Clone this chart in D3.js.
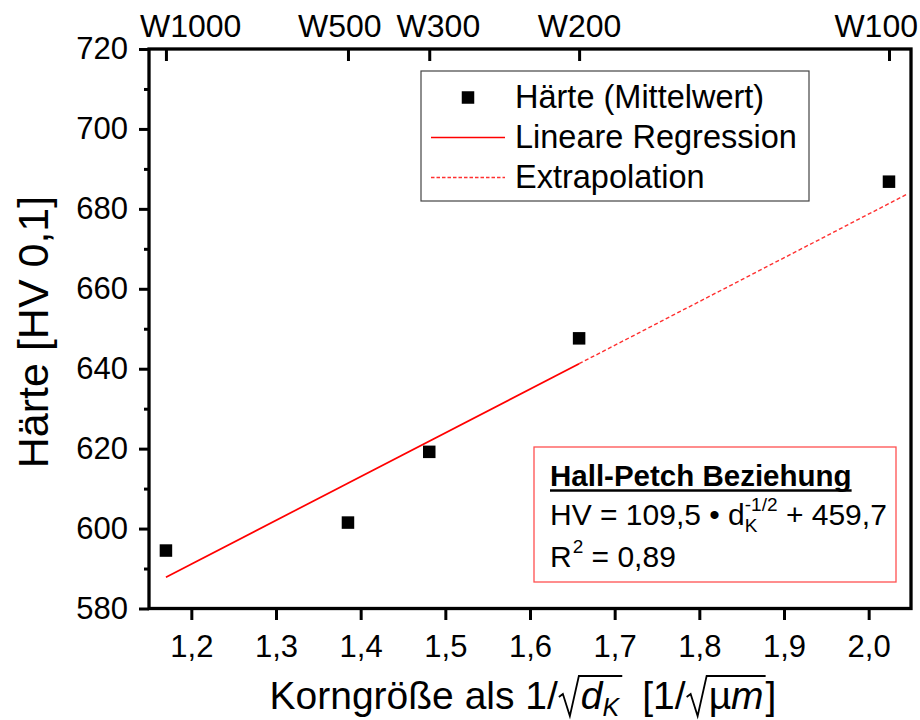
<!DOCTYPE html>
<html>
<head>
<meta charset="utf-8">
<script src="https://cdn.jsdelivr.net/npm/d3@7"></script>
<style>
  html, body { margin: 0; padding: 0; background: #fff; }
  svg { display: block; }
  text { font-family: "Liberation Sans", Arial, sans-serif; fill: #000; white-space: pre; }
</style>
</head>
<body>
<svg id="chart" width="920" height="720"></svg>
<script>
// Grain size 1/sqrt(d_K) [1/sqrt(µm)] per polishing stage, and mean hardness HV 0,1
const grainSize = [1.17, 1.385, 1.481, 1.658, 2.024];
const hardness = [594.5, 601.5, 619.2, 647.6, 686.8];
const sampleLabels = ["W1000", "W500", "W300", "W200", "W100"];

// Axis ticks
const xTicks = [1.2, 1.3, 1.4, 1.5, 1.6, 1.7, 1.8, 1.9, 2.0];
const yTicks = [580, 600, 620, 640, 660, 680, 700, 720];
const yMinorTicks = [590, 610, 630, 650, 670, 690, 710];

// Hall-Petch fit: HV = slope * d^-1/2 + intercept
const fitSlope = 109.5;
const fitIntercept = 459.7;
const rSquared = 0.89;
const fitRange = [1.17, 1.658];
const extrapolationRange = [1.658, 2.045];

const legendLabels = ["Härte (Mittelwert)", "Lineare Regression", "Extrapolation"];
const boxTitle = "Hall-Petch Beziehung";

const svg = d3.select("#chart").attr("xml:space", "preserve");
const deComma = v => String(v).replace(".", ",");

const x = d3.scaleLinear().domain([1.15, 2.05]).range([149, 911]);
const y = d3.scaleLinear().domain([580, 720]).range([608.5, 49]);

const RED = "#ff0000";
const AXIS_W = 3.3;
const FONT = '"Liberation Sans", Arial, sans-serif';

// ---- axes ----
function styleAxis(g, size) {
  g.attr("font-family", FONT).attr("font-size", size);
  g.select(".domain").remove();
  g.selectAll(".tick line").attr("stroke", "#000").attr("stroke-width", 3);
  g.selectAll(".tick text").attr("fill", "#000");
}

svg.append("g")
  .attr("transform", `translate(${x.range()[0]},0)`)
  .call(d3.axisLeft(y).tickValues(yMinorTicks).tickSize(5).tickFormat(""))
  .call(g => styleAxis(g, 30));

svg.append("g")
  .attr("transform", `translate(${x.range()[0]},0)`)
  .call(d3.axisLeft(y).tickValues(yTicks).tickSize(10).tickPadding(11).tickFormat(d3.format("d")))
  .call(g => styleAxis(g, 31));

svg.append("g")
  .attr("transform", `translate(0,${y.range()[0]})`)
  .call(d3.axisBottom(x).tickValues(xTicks).tickSize(11.5).tickPadding(15)
    .tickFormat(d => d3.format(".1f")(d).replace(".", ",")))
  .call(g => styleAxis(g, 31));

const topAxis = svg.append("g")
  .attr("transform", `translate(0,${y.range()[1]})`)
  .call(d3.axisTop(x).tickValues(grainSize).tickSize(-12).tickPadding(12)
    .tickFormat((d, i) => sampleLabels[i]))
  .call(g => styleAxis(g, 32));

// keep the sample labels inside the figure and apart from each other
(function spreadTopLabels() {
  const GAP = 15, MIN_LEFT = 140, MAX_RIGHT = 918;
  const items = topAxis.selectAll(".tick text").nodes().map(n => {
    const bb = n.getBBox();
    const tx = n.parentNode.transform.baseVal.consolidate().matrix.e;
    return { n, left: tx + bb.x, width: bb.width, shift: 0 };
  });
  items.forEach(it => {
    if (it.left < MIN_LEFT) it.shift = MIN_LEFT - it.left;
    if (it.left + it.width > MAX_RIGHT) it.shift = MAX_RIGHT - it.left - it.width;
  });
  for (let i = 0; i < items.length - 1; i++) {
    const a = items[i], b = items[i + 1];
    const over = (a.left + a.shift + a.width + GAP) - (b.left + b.shift);
    if (over > 0) { a.shift -= over / 2; b.shift += over / 2; }
  }
  items.forEach(it => d3.select(it.n).attr("dx", it.shift));
})();

// frame
svg.append("rect")
  .attr("x", x.range()[0]).attr("y", y.range()[1])
  .attr("width", x.range()[1] - x.range()[0])
  .attr("height", y.range()[0] - y.range()[1])
  .attr("fill", "none").attr("stroke", "#000").attr("stroke-width", AXIS_W);

// ---- regression and extrapolation ----
const fit = v => fitSlope * v + fitIntercept;
const line = d3.line().x(d => x(d)).y(d => y(fit(d)));

svg.append("path").datum(fitRange)
  .attr("d", line).attr("fill", "none")
  .attr("stroke", RED).attr("stroke-width", 1.7);

svg.append("path").datum(extrapolationRange)
  .attr("d", line).attr("fill", "none")
  .attr("stroke", "#ff3030").attr("stroke-width", 1.4)
  .attr("stroke-dasharray", "4,2.5");

// ---- data points ----
const MS = 12.5;
svg.append("g").selectAll("rect")
  .data(grainSize.map((g, i) => [g, hardness[i]]))
  .join("rect")
  .attr("x", d => x(d[0]) - MS / 2)
  .attr("y", d => y(d[1]) - MS / 2)
  .attr("width", MS).attr("height", MS)
  .attr("fill", "#000");

// ---- legend ----
const lg = svg.append("g");
lg.append("rect").attr("x", 421).attr("y", 71).attr("width", 388).attr("height", 130)
  .attr("fill", "#fff").attr("stroke", "#444").attr("stroke-width", 1.2);
const rowY = [108, 148, 188];
lg.append("rect").attr("x", 468 - MS / 2).attr("y", rowY[0] - 10.5 - MS / 2)
  .attr("width", MS).attr("height", MS).attr("fill", "#000");
lg.append("line").attr("x1", 431).attr("x2", 505).attr("y1", rowY[1] - 10.5).attr("y2", rowY[1] - 10.5)
  .attr("stroke", RED).attr("stroke-width", 1.7);
lg.append("line").attr("x1", 431).attr("x2", 505).attr("y1", rowY[2] - 10.5).attr("y2", rowY[2] - 10.5)
  .attr("stroke", "#ff3030").attr("stroke-width", 1.4).attr("stroke-dasharray", "3.5,2");
legendLabels.forEach((s, i) => {
  lg.append("text").attr("x", 515).attr("y", rowY[i]).attr("font-size", 32.5).text(s);
});

// ---- Hall-Petch box ----
const hb = svg.append("g");
hb.append("rect").attr("x", 534).attr("y", 447).attr("width", 362).attr("height", 135)
  .attr("fill", "#fff").attr("stroke", "#ff5050").attr("stroke-width", 1.3);

const tTitle = hb.append("text").attr("x", 550).attr("y", 486)
  .attr("font-size", 29.5).attr("font-weight", "bold").text(boxTitle);
const wTitle = tTitle.node().getComputedTextLength();
hb.append("line").attr("x1", 550).attr("x2", 550 + wTitle).attr("y1", 490.5).attr("y2", 490.5)
  .attr("stroke", "#000").attr("stroke-width", 2.4);

const EQ = 30, SUBS = 19;
const eqA = hb.append("text").attr("x", 550).attr("y", 525).attr("font-size", EQ)
  .text(`HV = ${deComma(fitSlope)} \u2022 d`);
const xA = 550 + eqA.node().getComputedTextLength();
const sup = hb.append("text").attr("x", xA).attr("y", 511).attr("font-size", SUBS).text("-1/2");
hb.append("text").attr("x", xA).attr("y", 532).attr("font-size", SUBS).text("K");
const xB = xA + sup.node().getComputedTextLength();
hb.append("text").attr("x", xB).attr("y", 525).attr("font-size", EQ)
  .text(` + ${deComma(fitIntercept)}`);

const r1 = hb.append("text").attr("x", 550).attr("y", 567).attr("font-size", EQ).text("R");
const xR = 550 + r1.node().getComputedTextLength();
const r2 = hb.append("text").attr("x", xR + 1).attr("y", 553).attr("font-size", SUBS).text("2");
hb.append("text").attr("x", xR + 1 + r2.node().getComputedTextLength()).attr("y", 567)
  .attr("font-size", EQ).text(` = ${deComma(rSquared)}`);

// ---- axis titles ----
svg.append("text")
  .attr("transform", "translate(48,332) rotate(-90)")
  .attr("text-anchor", "middle").attr("font-size", 43)
  .text("Härte [HV 0,1]");

// x title: "Korngröße als 1/√d_K  [1/√µm]" with math parts in serif
const xt = svg.append("g");
const TS = 39, SERIF = '"DejaVu Serif", "Liberation Serif", serif';
const base = 709;
let cx = 0;
function part(str, opts = {}) {
  const t = xt.append("text").attr("x", cx).attr("y", base + (opts.dy || 0))
    .attr("font-size", opts.size || TS)
    .attr("font-family", opts.serif ? SERIF : FONT)
    .attr("font-style", opts.italic ? "italic" : "normal")
    .text(str);
  const w = t.node().getComputedTextLength();
  cx += w + (opts.after || 0);
  return w;
}
function radical(x0, x1) {
  xt.append("path")
    .attr("d", `M${x0},${base - 12} L${x0 + 4},${base - 15} L${x0 + 11},${base + 7} L${x0 + 20},${base - 33} L${x1},${base - 33}`)
    .attr("fill", "none").attr("stroke", "#000").attr("stroke-width", 1.8)
    .attr("stroke-linejoin", "miter");
}
part("Korngröße als ");
part("1/", { serif: true, after: 1 });
let r0 = cx; cx += 22;
part("d", { serif: true, italic: true });
part("K", { serif: true, italic: true, size: 25, dy: 7, after: 3 });
radical(r0, cx);
cx += 20;
part("[1/", { serif: true, after: 1 });
r0 = cx; cx += 22;
part("\u00b5", { serif: true });
part("m", { serif: true, italic: true, after: 2 });
radical(r0, cx);
part("]", { serif: true });
const totalW = cx;
xt.attr("transform", `translate(${523 - totalW / 2},0)`);
</script>
</body>
</html>
